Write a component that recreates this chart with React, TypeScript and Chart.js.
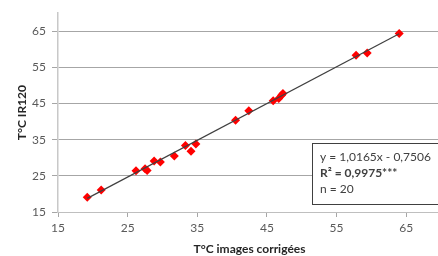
import React, { useEffect, useRef } from "react";
import { Chart, registerables } from "chart.js";

Chart.register(...registerables);

const xValues = [19.2, 21.2, 26.2, 27.5, 27.8, 28.8, 29.7, 31.7, 33.3, 34.1, 34.8, 40.5, 42.4, 45.9, 46.7, 47.1, 47.3, 57.8, 59.4, 64.0];
const yValues = [19.1, 21.1, 26.4, 27.0, 26.5, 29.1, 28.8, 30.5, 33.4, 31.8, 33.8, 40.4, 43.0, 45.8, 46.4, 47.3, 47.8, 58.4, 59.0, 64.4];
const tickValues = [15, 25, 35, 45, 55, 65];
const slope = 1.0165;
const intercept = -0.7506;
const xTitle = "T°C images corrigées";
const yTitle = "T°C IR120";
const boxLines = ["y = 1,0165x - 0,7506", "R² = 0,9975***", "n = 20"];

const FONT = "Lato, 'Open Sans', sans-serif";

const boxPlugin = {
  id: "eqBox",
  afterDraw(chart: any) {
    const ctx = chart.ctx;
    ctx.save();
    const x0 = 312.5, y0 = 143.5, w = 140, h = 61;
    ctx.fillStyle = "#ffffff";
    ctx.fillRect(x0, y0, w, h);
    ctx.strokeStyle = "#404040";
    ctx.lineWidth = 1;
    ctx.strokeRect(x0, y0, w, h);
    ctx.fillStyle = "#404040";
    ctx.textBaseline = "middle";
    ctx.textAlign = "left";
    const ys = [157, 173, 189];
    boxLines.forEach((t, i) => {
      ctx.font = (i === 1 ? "bold " : "") + "12px " + FONT;
      ctx.fillText(t, 320, ys[i]);
    });
    ctx.restore();
  },
};

export default function App() {
  const ref = useRef<HTMLCanvasElement>(null);
  useEffect(() => {
    if (!ref.current) return;
    const xmin = Math.min(...xValues);
    const xmax = Math.max(...xValues);
    const trend = [
      { x: xmin, y: slope * xmin + intercept },
      { x: xmax, y: slope * xmax + intercept },
    ];
    const pts = xValues.map((x, i) => ({ x, y: yValues[i] }));
    const setTicks = (s: any) => {
      s.ticks = tickValues.map((v) => ({ value: v }));
    };
    const chart = new Chart(ref.current, {
      type: "scatter",
      data: {
        datasets: [
          {
            type: "line",
            data: trend,
            borderColor: "#404040",
            borderWidth: 1.2,
            pointRadius: 0,
            fill: false,
          } as any,
          {
            data: pts,
            pointStyle: "rectRot",
            pointRadius: 4.5,
            backgroundColor: "#ff0000",
            borderColor: "#ff0000",
            borderWidth: 0,
          },
        ],
      },
      plugins: [boxPlugin],
      options: {
        animation: false,
        responsive: false,
        layout: { padding: { top: 7, right: 5, left: 0, bottom: 0 } },
        plugins: { legend: { display: false }, tooltip: { enabled: false } },
        scales: {
          x: {
            type: "linear",
            min: 15,
            max: 70,
            afterBuildTicks: setTicks,
            afterFit: (s: any) => {
              s.height = 44;
            },
            grid: { drawOnChartArea: false, drawTicks: true, tickLength: 5, color: "#a6a6a6" },
            border: { display: true, color: "#bfbfbf", width: 1 },
            ticks: { color: "#595959", font: { family: FONT, size: 12 }, padding: 4, maxRotation: 0 },
            title: {
              display: true,
              text: xTitle,
              color: "#262626",
              font: { family: FONT, size: 12, weight: "bold" },
              padding: { top: 0, bottom: 0 },
            },
          },
          y: {
            type: "linear",
            min: 15,
            max: 70,
            afterBuildTicks: setTicks,
            afterFit: (s: any) => {
              s.width = 58;
            },
            grid: { drawOnChartArea: true, drawTicks: true, tickLength: 6, color: "#a6a6a6" },
            border: { display: true, color: "#c8c8c8", width: 1.5 },
            ticks: { color: "#595959", font: { family: FONT, size: 12 }, padding: 6 },
            title: {
              display: true,
              text: yTitle,
              color: "#262626",
              font: { family: FONT, size: 12, weight: "bold" },
              padding: { top: 15, bottom: 0 },
            },
          },
        },
      },
    });
    return () => chart.destroy();
  }, []);
  return (
    <div style={{ position: "fixed", left: 0, top: 0, width: 438, height: 256, overflow: "hidden", background: "#fff" }}>
      <canvas ref={ref} width={446} height={256} style={{ display: "block" }} />
    </div>
  );
}
